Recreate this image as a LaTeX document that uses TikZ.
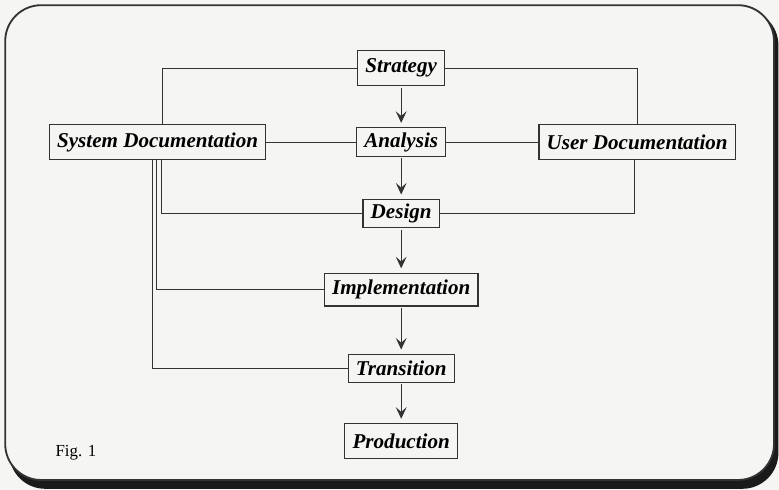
\documentclass[tikz,border=0pt]{standalone}
\usepackage{fontspec}
\setmainfont{Liberation Serif}
\usetikzlibrary{arrows.meta,positioning,calc}
\definecolor{figPaper}{HTML}{F5F5F3}
\definecolor{figInk}{HTML}{333333}
\definecolor{figShade}{HTML}{1A1A1A}

\begin{document}
\begin{tikzpicture}[
  box/.style={draw=figInk, fill=figPaper, line width=0.9pt, inner xsep=5.5pt,
              minimum height=0.88cm, font=\fontsize{15}{18}\selectfont\bfseries\itshape},
  slim/.style={minimum height=0.7cm},
  link/.style={figInk, line width=0.7pt},
  arr/.style={-{Stealth[length=2.9mm,width=2.7mm,inset=1.2mm]}, figInk, line width=0.7pt,
              shorten >=3pt, shorten <=1pt}]

\useasboundingbox[fill=figPaper] (0,0) rectangle (19.475,-12.25);
% frame and its shadow
\fill[figShade, rounded corners=0.9cm] (0.23,-0.23) rectangle (19.46,-12.22);
\draw[fill=figPaper, draw=figInk, line width=1.3pt, rounded corners=0.9cm] (0.13,-0.13) rectangle (19.35,-12.0);

\node[box] (strategy) at (10.03,-1.70) {Strategy};
\node[box,slim] (analysis) at (10.03,-3.55) {Analysis};
\node[box] (sysdoc) at (3.94,-3.55) {System Documentation};
\node[box] (userdoc) at (15.93,-3.55) {User Documentation};
\node[box,slim] (design) at (10.03,-5.34) {Design};
\node[box,minimum height=0.82cm] (impl) at (10.03,-7.24) {Implementation};
\node[box,slim] (trans) at (10.03,-9.21) {Transition};
\node[box] (prod) at (10.03,-11.03) {Production};
\node[font=\fontsize{12}{14}\selectfont] (fig) at (1.9,-11.33) {Fig. 1};

% documentation links
\draw[link] (strategy.west) -| ([xshift=0.11cm]sysdoc.north);
\draw[link] (strategy.east) -| (userdoc.north);
\draw[link] (sysdoc.east) -- (analysis.west);
\draw[link] (analysis.east) -- (userdoc.west);
\draw[link] ([xshift=0.09cm]sysdoc.south) |- (design.west);
\draw[link] ([xshift=-0.04cm]sysdoc.south) |- (impl.west);
\draw[link] ([xshift=-0.14cm]sysdoc.south) |- (trans.west);
\draw[link] ([xshift=-0.08cm]userdoc.south) |- (design.east);

% phases
\draw[arr] (strategy) -- (analysis);
\draw[arr] (analysis) -- (design);
\draw[arr] (design) -- (impl);
\draw[arr] (impl) -- (trans);
\draw[arr] (trans) -- (prod);
\end{tikzpicture}
\end{document}
